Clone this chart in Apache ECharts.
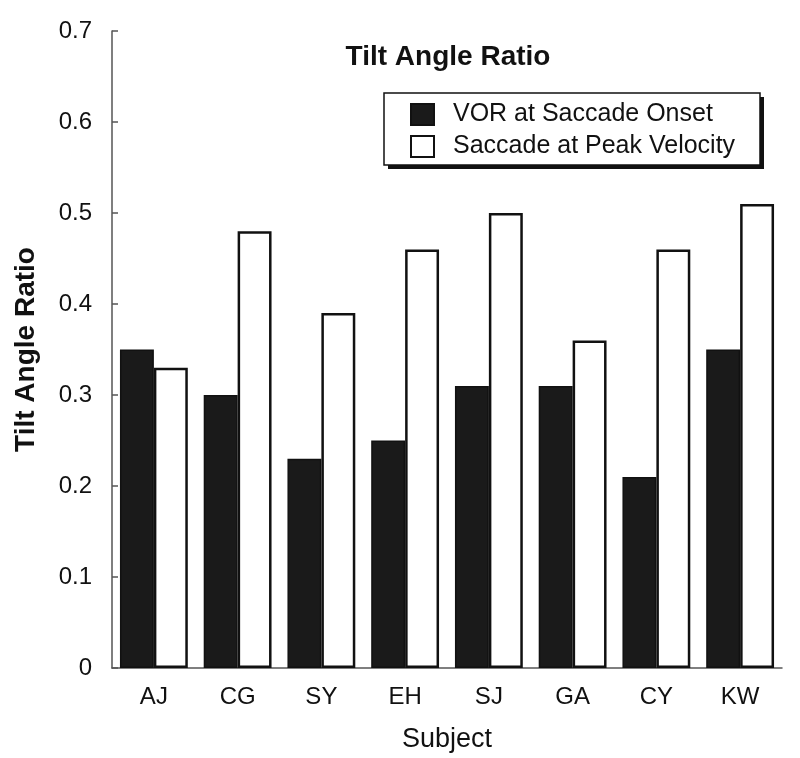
<!DOCTYPE html>
<html><head><meta charset="utf-8">
<script src="https://cdn.jsdelivr.net/npm/echarts@6/dist/echarts.min.js"></script>
<style>html,body{margin:0;padding:0;background:#fff}#c{width:800px;height:758px}</style>
</head><body><div id="c"></div>
<script>
const subjects = ['AJ','CG','SY','EH','SJ','GA','CY','KW'];
const vorOnset = [0.35,0.30,0.23,0.25,0.31,0.31,0.21,0.35];
const saccadePeak = [0.33,0.48,0.39,0.46,0.50,0.36,0.46,0.51];
const seriesNames = ['VOR at Saccade Onset','Saccade at Peak Velocity'];
const FONT = 'Liberation Sans, Arial, Helvetica, sans-serif';
const chart = echarts.init(document.getElementById('c'));
chart.setOption({
  animation:false,
  backgroundColor:'#fff',
  textStyle:{fontFamily:FONT,color:'#111'},
  title:{text:'Tilt Angle Ratio',left:443,top:38,textAlign:'center',
    textStyle:{fontFamily:FONT,fontSize:28,fontWeight:'bold',color:'#111'}},
  graphic:[
    {type:'rect',z:0,shape:{x:388,y:97,width:376,height:72},style:{fill:'#111'}},
    {type:'rect',z:1,shape:{x:384,y:93,width:376,height:72},style:{fill:'#fff',stroke:'#111',lineWidth:1.5}}
  ],
  legend:{orient:'vertical',left:410,top:102,z:5,
    data:seriesNames,
    padding:0,itemWidth:23,itemHeight:21,itemGap:7,
    icon:'rect',
    textStyle:{fontFamily:FONT,fontSize:25,color:'#111',padding:[0,0,0,14]}},
  grid:{left:112,right:18,top:31,bottom:86},
  xAxis:{type:'category',data:subjects,
    axisLine:{lineStyle:{color:'#555',width:1.5}},
    axisTick:{inside:true,length:8,lineStyle:{color:'#555',width:1.5}},
    axisLabel:{fontFamily:FONT,fontSize:24,color:'#111',margin:17},
    name:'Subject',nameLocation:'middle',nameGap:58,
    nameTextStyle:{fontFamily:FONT,fontSize:27,color:'#111'}},
  yAxis:{type:'value',min:0,max:0.7,interval:0.1,
    axisLine:{show:true,lineStyle:{color:'#555',width:1.5}},
    axisTick:{show:true,inside:true,length:6,lineStyle:{color:'#555',width:1.5}},
    splitLine:{show:false},
    axisLabel:{fontFamily:FONT,fontSize:24,color:'#111',margin:20},
    name:'Tilt Angle Ratio',nameLocation:'middle',nameGap:72,
    nameTextStyle:{fontFamily:FONT,fontSize:28,fontWeight:'bold',color:'#111'}},
  series:[
    {name:seriesNames[0],type:'bar',data:vorOnset,barGap:'0%',barCategoryGap:'19%',
      itemStyle:{color:'#1a1a1a',borderColor:'#111',borderWidth:1.5}},
    {name:seriesNames[1],type:'bar',data:saccadePeak,barGap:'0%',barCategoryGap:'19%',
      itemStyle:{color:'#fff',borderColor:'#111',borderWidth:2.5}}
  ]
});
</script></body></html>
